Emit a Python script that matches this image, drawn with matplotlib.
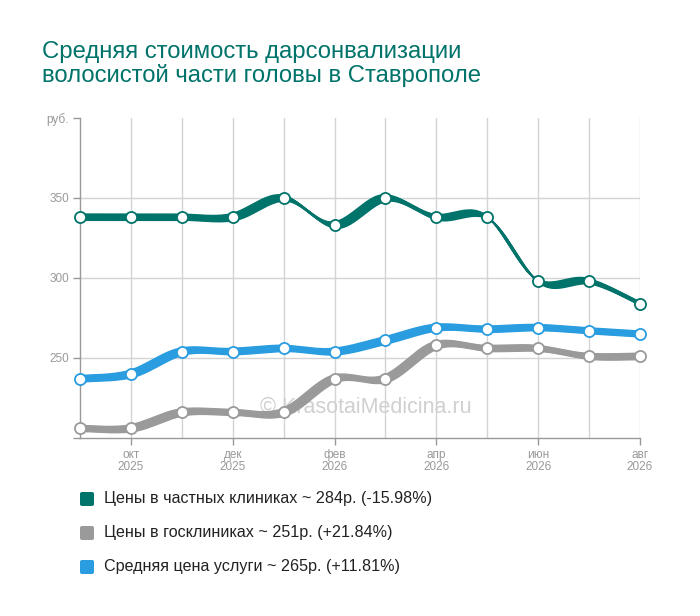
import numpy as np
import matplotlib
matplotlib.use('Agg')
import matplotlib.pyplot as plt
import matplotlib.transforms as mtransforms
from matplotlib.patches import FancyBboxPatch

plt.rcParams['font.family'] = ['Liberation Sans', 'DejaVu Sans']

months = ['сен\n2025', 'окт\n2025', 'ноя\n2025', 'дек\n2025', 'янв\n2026', 'фев\n2026',
          'мар\n2026', 'апр\n2026', 'май\n2026', 'июн\n2026', 'июл\n2026', 'авг\n2026']
private = [338, 338, 338, 338, 350, 333, 350, 338, 338, 298, 298, 284]
public = [206, 206, 216, 216, 216, 237, 237, 258, 256, 256, 251, 251]
average = [237, 240, 254, 254, 256, 254, 261, 269, 268, 269, 267, 265]

series = [
    ('Цены в частных клиниках ~ 284р. (-15.98%)', private, '#00736a'),
    ('Цены в госклиниках ~ 251р. (+21.84%)', public, '#9a9a9a'),
    ('Средняя цена услуги ~ 265р. (+11.81%)', average, '#2a9de0'),
]


def catmull_rom(xs, ys, steps=24):
    # smooth curve through the points, like the original chart
    xs = np.asarray(xs, float)
    ys = np.asarray(ys, float)
    px = np.concatenate([[xs[0]], xs, [xs[-1]]])
    py = np.concatenate([[ys[0]], ys, [ys[-1]]])
    out_x, out_y = [], []
    for i in range(1, len(px) - 2):
        t = np.linspace(0, 1, steps, endpoint=False)
        m0x, m1x = (px[i + 1] - px[i - 1]) / 2, (px[i + 2] - px[i]) / 2
        m0y, m1y = (py[i + 1] - py[i - 1]) / 2, (py[i + 2] - py[i]) / 2
        h00 = 2 * t**3 - 3 * t**2 + 1
        h10 = t**3 - 2 * t**2 + t
        h01 = -2 * t**3 + 3 * t**2
        h11 = t**3 - t**2
        out_x.append(h00 * px[i] + h10 * m0x + h01 * px[i + 1] + h11 * m1x)
        out_y.append(h00 * py[i] + h10 * m0y + h01 * py[i + 1] + h11 * m1y)
    out_x.append([xs[-1]])
    out_y.append([ys[-1]])
    return np.concatenate(out_x), np.concatenate(out_y)


fig = plt.figure(figsize=(7, 6.16), dpi=100)
ax = fig.add_axes([80 / 700, 178 / 616, 560 / 700, 320 / 616])

x = np.arange(len(months))
ax.set_xlim(0, len(months) - 1)
ax.set_ylim(200, 400)

# grid
for xi in x[1:]:
    ax.axvline(xi, color='#d4d4d4', lw=1, zorder=0)
for yv in [250, 300, 350]:
    ax.axhline(yv, color='#d4d4d4', lw=1, zorder=0)

# calligraphic-looking strokes: many offset copies of a thin line
for name, vals, col in series:
    sx, sy = catmull_rom(x, vals)
    for k in np.linspace(-1, 1, 11):
        tr = mtransforms.offset_copy(ax.transData, fig=fig, x=k * 3.0, y=-k * 3.0, units='dots')
        ax.plot(sx, sy, color=col, lw=1.2, transform=tr, solid_capstyle='butt', zorder=2)
    ax.plot(x, vals, 'o', ms=8, mfc='white', mec=col, mew=1.3, zorder=3, clip_on=False)

ax.text(0.51, 0.095, '© KrasotaiMedicina.ru', transform=ax.transAxes, ha='center', va='center',
        fontsize=15.5, color='#d0d0d0', zorder=1)

for s in ['top', 'right']:
    ax.spines[s].set_visible(False)
for s in ['left', 'bottom']:
    ax.spines[s].set_color('#999999')
    ax.spines[s].set_linewidth(1)

ax.set_yticks([200, 250, 300, 350, 400])
ax.set_yticklabels(['', '250', '300', '350', 'руб.'])
ax.set_xticks(x[1::2])
ax.set_xticklabels(months[1::2], linespacing=1.0)
ax.tick_params(colors='#999999', labelsize=8.5, length=5, width=1)
ax.tick_params(axis='x', pad=3)
ax.tick_params(axis='y', pad=3)

fig.text(42 / 700, 1 - 64 / 616, 'Средняя стоимость дарсонвализации\nволосистой части головы в Ставрополе',
         color='#00736a', fontsize=17.2, ha='left', va='center', linespacing=1.02)

# legend
for i, (name, vals, col) in enumerate(series):
    yc = 499 + i * 34
    box = FancyBboxPatch((80 / 700, 1 - (yc + 7) / 616), 14 / 700, 14 / 616,
                         boxstyle='round,pad=0,rounding_size=0.003', transform=fig.transFigure,
                         facecolor=col, edgecolor='none')
    fig.patches.append(box)
    fig.text(104 / 700, 1 - yc / 616, name, fontsize=11.6, color='#222222', ha='left', va='center')

fig.savefig('out.png', dpi=100)
